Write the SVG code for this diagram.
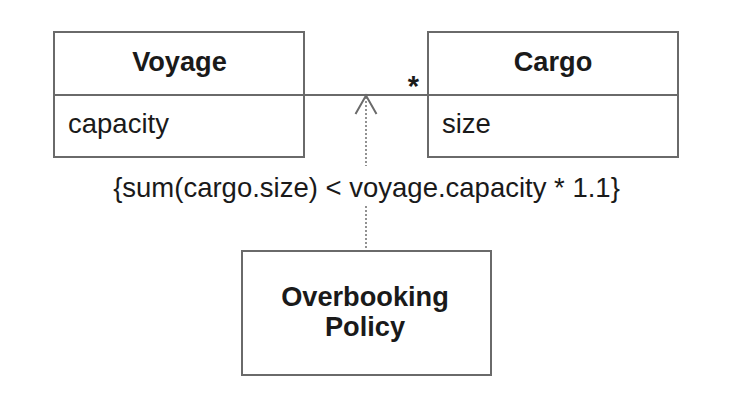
<svg xmlns="http://www.w3.org/2000/svg" width="745" height="412" viewBox="0 0 745 412">
<style>
.box{fill:#fff;stroke:#6a6a6a;stroke-width:2}
.ln{fill:none;stroke:#6a6a6a;stroke-width:2}
.dot{fill:none;stroke:#777;stroke-width:1.6;stroke-dasharray:2 2}
.t{font-family:"Liberation Sans",Arial,sans-serif;font-size:27.5px;fill:#1a1a1a}
.b{font-weight:bold;text-anchor:middle;font-size:27.2px}
</style>
<rect width="745" height="412" fill="#fff"/>
<g id="connectors">
<line class="ln" x1="304" y1="95" x2="428" y2="95"/>
<text class="t" x="413.5" y="96" style="font-weight:bold;font-size:29px" text-anchor="middle">*</text>
<line class="dot" x1="366" y1="97" x2="366" y2="166"/>
<line class="dot" x1="366" y1="206" x2="366" y2="251"/>
<polyline class="ln" points="355.5,114 366,95.5 376.5,114" stroke-width="1.6"/>
<text class="t" x="366.5" y="197" text-anchor="middle">{sum(cargo.size) &lt; voyage.capacity * 1.1}</text>
</g>
<g id="voyage">
<rect class="box" x="54" y="32" width="250" height="125"/>
<line class="ln" x1="54" y1="95" x2="304" y2="95"/>
<text class="t b" x="179.5" y="71">Voyage</text>
<text class="t" x="68" y="133">capacity</text>
</g>
<g id="cargo">
<rect class="box" x="428" y="32" width="250" height="125"/>
<line class="ln" x1="428" y1="95" x2="678" y2="95"/>
<text class="t b" x="553" y="71">Cargo</text>
<text class="t" x="442" y="133">size</text>
</g>
<g id="policy">
<rect class="box" x="242" y="251" width="249" height="124"/>
<text class="t b" x="365" y="306">Overbooking</text>
<text class="t b" x="365" y="336">Policy</text>
</g>
</svg>
